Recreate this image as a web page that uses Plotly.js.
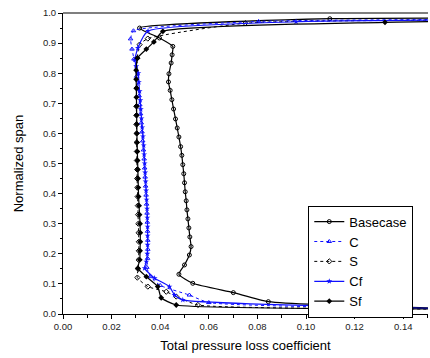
<!DOCTYPE html>
<html>
<head>
<meta charset="utf-8">
<script src="https://cdn.plot.ly/plotly-3.0.1.min.js"></script>
<style>
html,body{margin:0;padding:0;background:#fff;overflow:hidden;}
#chart{width:430px;height:358px;}
</style>
</head>
<body>
<div id="chart"></div>
<script>
// Series data (x = total pressure loss coefficient, y = normalized span)
const baseX = [0.30, 0.16, 0.0845, 0.0701, 0.0534, 0.0477, 0.0500, 0.0520, 0.0527, 0.0522, 0.0518, 0.0514, 0.0510, 0.0507, 0.0503, 0.0500, 0.0497, 0.0493, 0.0489, 0.0484, 0.0477, 0.0470, 0.0463, 0.0455, 0.0448, 0.0441, 0.0434, 0.0436, 0.0445, 0.0449, 0.0452, 0.0397, 0.0315, 0.1098, 0.20];
const baseY = [0.010, 0.019, 0.041, 0.071, 0.102, 0.132, 0.163, 0.196, 0.224, 0.256, 0.286, 0.316, 0.346, 0.376, 0.406, 0.436, 0.466, 0.496, 0.527, 0.556, 0.588, 0.618, 0.648, 0.681, 0.712, 0.743, 0.771, 0.798, 0.834, 0.861, 0.889, 0.917, 0.950, 0.981, 0.983];

const cX = [0.30, 0.16, 0.0600, 0.0520, 0.0400, 0.0360, 0.0345, 0.0348, 0.0349, 0.0349, 0.0348, 0.0347, 0.0346, 0.0344, 0.0342, 0.0340, 0.0338, 0.0336, 0.0334, 0.0331, 0.0328, 0.0325, 0.0322, 0.0319, 0.0316, 0.0313, 0.0303, 0.0292, 0.0284, 0.0278, 0.0290, 0.0805, 0.20];
const cY = [0.008, 0.016, 0.038, 0.063, 0.095, 0.124, 0.155, 0.185, 0.215, 0.245, 0.275, 0.305, 0.335, 0.365, 0.395, 0.425, 0.455, 0.485, 0.515, 0.545, 0.575, 0.605, 0.635, 0.665, 0.695, 0.725, 0.790, 0.847, 0.880, 0.914, 0.941, 0.972, 0.980];

const sX = [0.30, 0.16, 0.0555, 0.0466, 0.0425, 0.0349, 0.0306, 0.0309, 0.0311, 0.0312, 0.0312, 0.0311, 0.0310, 0.0309, 0.0308, 0.0307, 0.0306, 0.0305, 0.0305, 0.0304, 0.0304, 0.0303, 0.0303, 0.0302, 0.0302, 0.0302, 0.0303, 0.0306, 0.0315, 0.0349, 0.0750, 0.20];
const sY = [0.008, 0.016, 0.030, 0.058, 0.074, 0.091, 0.121, 0.150, 0.180, 0.210, 0.240, 0.270, 0.300, 0.330, 0.360, 0.390, 0.420, 0.450, 0.480, 0.510, 0.540, 0.570, 0.600, 0.630, 0.660, 0.690, 0.750, 0.850, 0.895, 0.915, 0.966, 0.977];

const cfX = [0.30, 0.16, 0.0493, 0.0459, 0.0438, 0.0377, 0.0336, 0.0343, 0.0347, 0.0348, 0.0348, 0.0348, 0.0347, 0.0346, 0.0344, 0.0342, 0.0340, 0.0338, 0.0336, 0.0334, 0.0332, 0.0329, 0.0326, 0.0323, 0.0320, 0.0318, 0.0315, 0.0312, 0.0310, 0.0301, 0.0296, 0.0308, 0.0350, 0.0959, 0.20];
const cfY = [0.008, 0.017, 0.047, 0.063, 0.091, 0.119, 0.152, 0.174, 0.200, 0.230, 0.260, 0.290, 0.320, 0.350, 0.380, 0.410, 0.440, 0.470, 0.500, 0.530, 0.560, 0.590, 0.620, 0.650, 0.680, 0.710, 0.740, 0.770, 0.800, 0.823, 0.845, 0.884, 0.940, 0.971, 0.978];

const sfX = [0.30, 0.16, 0.0466, 0.0404, 0.0390, 0.0343, 0.0308, 0.0316, 0.0317, 0.0318, 0.0318, 0.0317, 0.0315, 0.0313, 0.0311, 0.0310, 0.0309, 0.0308, 0.0307, 0.0306, 0.0305, 0.0304, 0.0304, 0.0303, 0.0303, 0.0302, 0.0302, 0.0301, 0.0301, 0.0306, 0.0343, 0.0374, 0.0411, 0.1325, 0.20];
const sfY = [0.008, 0.016, 0.030, 0.054, 0.091, 0.124, 0.152, 0.180, 0.210, 0.240, 0.270, 0.300, 0.330, 0.360, 0.390, 0.420, 0.450, 0.480, 0.510, 0.540, 0.570, 0.600, 0.630, 0.660, 0.690, 0.720, 0.750, 0.780, 0.810, 0.850, 0.880, 0.904, 0.939, 0.969, 0.975];

const seriesNames = ['Basecase', 'C', 'S', 'Cf', 'Sf'];
const xTickVals = [0, 0.02, 0.04, 0.06, 0.08, 0.10, 0.12, 0.14];
const xTickText = ['0.00', '0.02', '0.04', '0.06', '0.08', '0.10', '0.12', '0.14'];
const yTickVals = [0, 0.1, 0.2, 0.3, 0.4, 0.5, 0.6, 0.7, 0.8, 0.9, 1.0];
const yTickText = ['0.0', '0.1', '0.2', '0.3', '0.4', '0.5', '0.6', '0.7', '0.8', '0.9', '1.0'];

const FONT = 'Liberation Sans, Arial, sans-serif';
const lineShape = {shape: 'spline', smoothing: 0.5};

const traces = [
  {x: baseX, y: baseY, name: seriesNames[0], mode: 'lines+markers',
   line: Object.assign({color: '#000', width: 1.2, dash: 'solid'}, lineShape),
   marker: {symbol: 'circle-open', size: 4, color: '#000', line: {width: 1}}},
  {x: cX, y: cY, name: seriesNames[1], mode: 'lines+markers',
   line: Object.assign({color: '#1010ff', width: 1, dash: 'dot'}, lineShape),
   marker: {symbol: 'triangle-up-open', size: 4, color: '#1010ff', line: {width: 1}}},
  {x: sX, y: sY, name: seriesNames[2], mode: 'lines+markers',
   line: Object.assign({color: '#000', width: 1, dash: 'dot'}, lineShape),
   marker: {symbol: 'diamond-open', size: 4, color: '#000', line: {width: 1}}},
  {x: cfX, y: cfY, name: seriesNames[3], mode: 'lines+markers',
   line: Object.assign({color: '#1010ff', width: 1.2, dash: 'solid'}, lineShape),
   marker: {symbol: 'star', size: 4.5, color: '#1010ff'}},
  {x: sfX, y: sfY, name: seriesNames[4], mode: 'lines+markers',
   line: Object.assign({color: '#000', width: 1.2, dash: 'solid'}, lineShape),
   marker: {symbol: 'diamond', size: 4.5, color: '#000'}}
];

const layout = {
  width: 430, height: 358,
  margin: {l: 63, r: 2, t: 13, b: 44},
  paper_bgcolor: '#fff', plot_bgcolor: '#fff',
  font: {family: FONT, color: '#000'},
  showlegend: true,
  legend: {x: 0.672, y: 0.36, xanchor: 'left', yanchor: 'top',
           bgcolor: '#fff', bordercolor: '#000', borderwidth: 1,
           itemwidth: 30,
           font: {family: FONT, size: 13, color: '#000'}},
  xaxis: {
    range: [0, 0.1502], showgrid: false, zeroline: false,
    showline: true, linecolor: '#000', linewidth: 1, mirror: false,
    ticks: 'outside', ticklen: 4, tickwidth: 1, tickcolor: '#000',
    tickvals: xTickVals, ticktext: xTickText,
    tickfont: {family: FONT, size: 9.5, color: '#222'},
    minor: {ticks: 'outside', ticklen: 2.5, tickwidth: 1, tickcolor: '#000', dtick: 0.01, tick0: 0, showgrid: false},
    title: {text: 'Total pressure loss coefficient', font: {family: FONT, size: 13, color: '#000'}, standoff: 9}
  },
  yaxis: {
    range: [0, 1], showgrid: false, zeroline: false,
    showline: true, linecolor: '#000', linewidth: 1, mirror: false,
    ticks: 'outside', ticklen: 4, tickwidth: 1, tickcolor: '#000',
    tickvals: yTickVals, ticktext: yTickText,
    tickfont: {family: FONT, size: 9.5, color: '#222'},
    minor: {ticks: 'outside', ticklen: 2.5, tickwidth: 1, tickcolor: '#000', dtick: 0.05, tick0: 0, showgrid: false},
    title: {text: 'Normalized span', font: {family: FONT, size: 13, color: '#000'}, standoff: 16}
  },
  shapes: [
    {type: 'line', xref: 'paper', yref: 'paper', x0: 0, x1: 1, y0: 1, y1: 1,
     line: {color: '#000', width: 1.2}}
  ]
};

Plotly.newPlot('chart', traces, layout, {staticPlot: true, displayModeBar: false});
</script>
</body>
</html>
